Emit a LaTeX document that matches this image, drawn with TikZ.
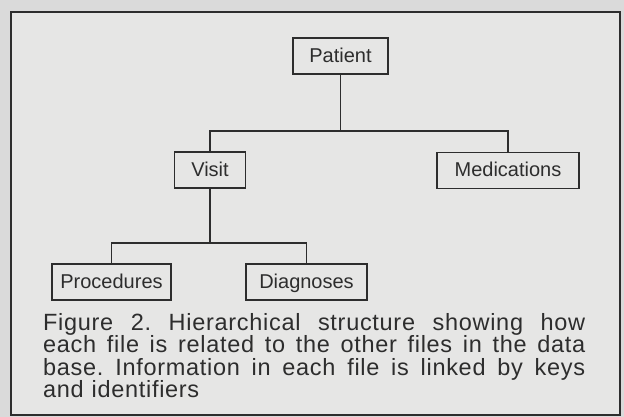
\documentclass[tikz,border=0pt]{standalone}
\usepackage{fontspec}
\setmainfont{Liberation Sans}
\newfontfamily\capfont[LetterSpace=3]{Liberation Sans}
\usetikzlibrary{positioning}

\definecolor{pagegray}{RGB}{218,218,218}
\definecolor{panelgray}{RGB}{230,230,229}
\definecolor{inkgray}{RGB}{45,45,45}

% one justified caption line
\newcommand{\capline}[1]{\makebox[542pt][s]{\frenchspacing\spaceskip=0.28em plus 1fil\relax #1}}

\begin{document}
\begin{tikzpicture}[
  x=1pt, y=-1pt,
  filebox/.style={draw=inkgray, fill=panelgray, line width=1.4pt, minimum height=36pt,
    inner sep=0pt, text height=13pt, text depth=0pt, text=inkgray,
    font=\fontsize{20}{24}\selectfont},
  link/.style={draw=inkgray, line width=1.4pt},
  every node/.style={text=inkgray}
]
  % page and frame
  \fill[pagegray] (0,0) rectangle (624,417);
  \draw[fill=panelgray, draw=inkgray, line width=2pt] (11,12) rectangle (620,415);
  \useasboundingbox (0,0) rectangle (624,417);

  % files
  \node[filebox, minimum width=95pt] (patient) at (340.5,56) {Patient};
  \node[filebox, minimum width=71pt] (visit) at (210,170) {Visit};
  \node[filebox, minimum width=142pt] (medications) at (508,170.5) {Medications};
  \node[filebox, minimum width=119pt] (procedures) at (111.5,282) {Procedures};
  \node[filebox, minimum width=121pt] (diagnoses) at (306.5,282) {Diagnoses};

  % --- links ---
  \coordinate (topjoin) at (340.5,131);
  \coordinate (visitjoin) at (210,243);
  \draw[link] (patient) -- (topjoin);
  \draw[link] (visit) |- (topjoin) -| (medications);
  \draw[link] (visit) -- (visitjoin);
  \draw[link] (procedures) |- (visitjoin) -| (diagnoses);

  % caption
  \node[anchor=base west, inner sep=0pt, text width=542pt, align=left,
    font=\capfont\fontsize{23.5}{22.5}\selectfont] (caption) at (43,330)
    {\capline{Figure 2. Hierarchical structure showing how}\\
     \capline{each file is related to the other files in the data}\\
     \capline{base. Information in each file is linked by keys}\\
     and identifiers};
\end{tikzpicture}
\end{document}
